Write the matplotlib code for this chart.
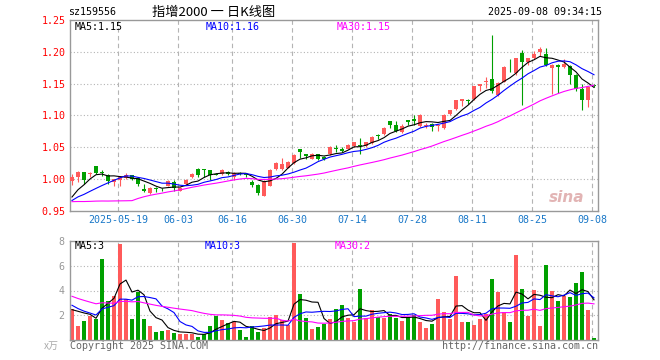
import numpy as np
import pandas as pd
import matplotlib
matplotlib.use('Agg')
import matplotlib.pyplot as plt

plt.rcParams['font.family'] = ['DejaVu Sans Mono', 'Noto Sans CJK SC']

# sz159556 daily bars, 2025-05-07 .. 2025-09-08 (88 trading days)
opens = [0.997, 1.003, 1.011, 1.008, 1.020, 1.012, 1.007, 0.996, 0.999, 1.002,
         1.006, 1.002, 0.984, 0.979, 0.986, 0.985, 0.989, 0.996, 0.982, 0.992,
         1.003, 1.016, 1.015, 1.015, 1.008, 1.008, 1.012, 1.003, 1.010, 1.008,
         0.996, 0.991, 0.974, 0.990, 1.016, 1.016, 1.018, 1.0255, 1.047, 1.040,
         1.032, 1.040, 1.035, 1.0395, 1.049, 1.047, 1.048, 1.0525, 1.054, 1.0525,
         1.057, 1.069, 1.071, 1.0915, 1.085, 1.0735, 1.093, 1.095, 1.084, 1.083,
         1.087, 1.083, 1.080, 1.102, 1.110, 1.122, 1.125, 1.126, 1.146, 1.152,
         1.158, 1.1325, 1.153, 1.1775, 1.166, 1.198, 1.1835, 1.190, 1.199, 1.196,
         1.174, 1.180, 1.176, 1.178, 1.164, 1.1415, 1.124, 1.148]
highs = [1.008, 1.013, 1.012, 1.012, 1.021, 1.015, 1.008, 1.001, 1.005, 1.009,
         1.007, 1.003, 0.993, 0.987, 0.987, 0.986, 0.998, 0.998, 0.987, 1.000,
         1.009, 1.017, 1.016, 1.015, 1.009, 1.016, 1.013, 1.011, 1.011, 1.009,
         0.998, 0.992, 0.998, 1.016, 1.027, 1.034, 1.028, 1.039, 1.048, 1.040,
         1.041, 1.040, 1.036, 1.052, 1.053, 1.050, 1.055, 1.059, 1.064, 1.059,
         1.068, 1.071, 1.082, 1.092, 1.0915, 1.086, 1.093, 1.100, 1.102, 1.088,
         1.088, 1.086, 1.102, 1.109, 1.125, 1.126, 1.126, 1.147, 1.150, 1.160,
         1.2265, 1.152, 1.178, 1.189, 1.191, 1.203, 1.191, 1.201, 1.207, 1.206,
         1.181, 1.181, 1.189, 1.180, 1.165, 1.149, 1.147, 1.149]
lows = [0.991, 0.995, 0.992, 1.003, 1.008, 1.005, 0.993, 0.989, 0.989, 1.000,
        0.998, 0.990, 0.980, 0.977, 0.980, 0.981, 0.989, 0.981, 0.981, 0.991,
        1.002, 1.004, 1.004, 0.998, 1.006, 1.007, 1.006, 0.998, 1.006, 1.003,
        0.987, 0.975, 0.973, 0.989, 1.014, 1.015, 1.017, 1.024, 1.034, 1.032,
        1.031, 1.030, 1.030, 1.038, 1.043, 1.042, 1.047, 1.050, 1.040, 1.051,
        1.056, 1.063, 1.070, 1.080, 1.074, 1.073, 1.0855, 1.085, 1.082, 1.081,
        1.075, 1.076, 1.079, 1.101, 1.109, 1.115, 1.118, 1.124, 1.138, 1.143,
        1.1355, 1.131, 1.152, 1.168, 1.164, 1.117, 1.180, 1.188, 1.193, 1.178,
        1.133, 1.136, 1.174, 1.150, 1.139, 1.108, 1.113, 1.145]
closes = [1.004, 1.012, 0.999, 1.010, 1.010, 1.009, 0.997, 1.000, 1.004, 1.007,
          1.000, 0.992, 0.982, 0.986, 0.985, 0.984, 0.997, 0.986, 0.986, 0.999,
          1.008, 1.006, 1.014, 1.007, 1.007, 1.014, 1.008, 1.010, 1.008, 1.006,
          0.991, 0.979, 0.996, 1.0145, 1.0255, 1.024, 1.0275, 1.038, 1.042, 1.036,
          1.040, 1.032, 1.032, 1.050, 1.047, 1.045, 1.0535, 1.058, 1.052, 1.058,
          1.067, 1.068, 1.081, 1.085, 1.076, 1.084, 1.090, 1.092, 1.101, 1.085,
          1.082, 1.085, 1.101, 1.108, 1.124, 1.1255, 1.122, 1.146, 1.149, 1.154,
          1.138, 1.151, 1.176, 1.177, 1.190, 1.184, 1.190, 1.1965, 1.204, 1.179,
          1.180, 1.176, 1.181, 1.164, 1.1415, 1.124, 1.145, 1.146]
vols = [2.47, 1.13, 1.53, 1.96, 1.69, 6.52, 3.14, 3.54, 7.73, 3.28,
        1.69, 3.89, 1.69, 1.13, 0.64, 0.72, 0.83, 0.56, 0.51, 0.51,
        0.51, 0.27, 0.48, 1.13, 1.96, 1.61, 1.34, 1.48, 0.81, 0.27,
        1.13, 0.64, 0.99, 1.83, 2.01, 1.61, 1.18, 7.84, 3.70, 1.74,
        0.89, 1.07, 1.29, 1.69, 2.47, 2.82, 1.74, 1.48, 4.11, 1.74,
        2.42, 1.83, 1.80, 2.09, 1.80, 1.56, 1.83, 2.01, 1.48, 0.99,
        1.29, 3.30, 2.28, 1.66, 5.18, 1.48, 1.48, 1.21, 1.69, 2.07,
        4.91, 3.89, 2.23, 1.48, 6.85, 4.11, 1.96, 4.03, 1.13, 6.04,
        3.95, 3.17, 3.54, 3.49, 4.62, 5.50, 2.42, 0.19]

# 29 sessions before the window, only used to start the moving averages
early_close = [1.005, 1.000, 1.002, 0.998, 1.004, 0.999, 0.995, 1.000, 1.003, 0.994,
               0.890, 0.900, 0.920, 0.930, 0.935, 0.940, 0.940, 0.935, 0.940, 0.945,
               0.955, 0.960, 0.962, 0.964, 0.964, 0.955, 0.960, 0.965, 0.976]
early_vol = [6.5, 6.0, 6.2, 5.8, 4.0, 3.8, 4.0, 3.6, 2.8, 3.0,
             3.0, 5.0, 4.2, 3.6, 3.2, 3.0, 2.8, 2.6, 2.4, 2.4,
             3.8, 3.6, 3.5, 3.3, 1.6, 1.8, 2.2, 2.5, 3.3]

tick_idx = [8, 18, 27, 37, 47, 57, 67, 77, 87]
tick_lbl = ['2025-05-19', '06-03', '06-16', '06-30', '07-14', '07-28', '08-11', '08-25', '09-08']

UP = '#ff5a5a'
DOWN = '#00a000'
GRID = '#b4b4b4'

o = np.array(opens); h = np.array(highs); l = np.array(lows); c = np.array(closes)
v = np.array(vols)
x = np.arange(len(c))
up = c >= o
cols = np.where(up, UP, DOWN)
n0 = len(early_close)

def ma(early, vals, n):
    s = pd.Series(list(early) + list(vals)).rolling(n).mean()
    return s.iloc[n0:].to_numpy()

fig = plt.figure(figsize=(6.6, 3.6), dpi=100)
W, H = 660.0, 360.0
ax = fig.add_axes([70 / W, 1 - 211 / H, 528 / W, 191 / H])
axv = fig.add_axes([70 / W, 1 - 340 / H, 528 / W, 99 / H])

for a in (ax, axv):
    a.set_xlim(-0.333, 87.667)
    for s in a.spines.values():
        s.set_color('#999999')
        s.set_linewidth(1.0)
    for t in tick_idx:
        a.axvline(t - 0.3, color=GRID, lw=0.8, ls=(0, (4, 3)), zorder=0)
    a.tick_params(length=0)

# price panel
ax.set_ylim(0.95, 1.25)
for yv in [1.00, 1.05, 1.10, 1.15, 1.20]:
    ax.axhline(yv, color=GRID, lw=0.8, ls=(0, (1, 2)), zorder=0)
ax.vlines(x, l, h, colors=cols, lw=0.8, zorder=2)
body = np.maximum(np.abs(c - o), 0.0012)
ax.bar(x, body, bottom=np.minimum(o, c), width=0.75, color=cols, linewidth=0, zorder=3)
ax.plot(x, ma(early_close, c, 5), color='black', lw=0.8, zorder=4)
ax.plot(x, ma(early_close, c, 10), color='#0000ff', lw=0.8, zorder=4)
ax.plot(x, ma(early_close, c, 30), color='#ff00ff', lw=0.8, zorder=4)
yt = [0.95, 1.00, 1.05, 1.10, 1.15, 1.20, 1.25]
ax.set_yticks(yt)
ax.set_yticklabels(['%.2f' % t for t in yt], color='red', fontsize=7.2)
ax.set_xticks([t - 0.3 for t in tick_idx])
ax.set_xticklabels(tick_lbl, color='#1a78c8', fontsize=7.2)
ax.tick_params(axis='x', pad=3)
ax.tick_params(axis='y', pad=3)
ax.text(0.94, 0.07, 'sina', transform=ax.transAxes, ha='center', va='center',
        fontsize=11, fontstyle='italic', fontweight='bold', color='#e2b4b4',
        family='DejaVu Sans', zorder=1)

# volume panel
axv.set_ylim(0, 8)
for yv in [2, 4, 6]:
    axv.axhline(yv, color=GRID, lw=0.8, ls=(0, (1, 2)), zorder=0)
axv.bar(x, v, width=0.8, color=cols, linewidth=0, zorder=2)
axv.plot(x, ma(early_vol, v, 5), color='black', lw=0.8, zorder=3)
axv.plot(x, ma(early_vol, v, 10), color='#0000ff', lw=0.8, zorder=3)
axv.plot(x, ma(early_vol, v, 30), color='#ff00ff', lw=0.8, zorder=3)
axv.set_yticks([2, 4, 6, 8])
axv.set_yticklabels(['2', '4', '6', '8'], color='#999999', fontsize=7.2)
axv.set_xticks([])
axv.tick_params(axis='y', pad=4)

def txt(px, py, s, size=7.2, **kw):
    fig.text(px / W, 1 - py / H, s, va='center', fontsize=size, **kw)

txt(68, 12, 'sz159556', color='black')
txt(152, 12, '指增2000 一 日K线图', color='black', size=9.5,
    family=['Noto Sans CJK SC', 'DejaVu Sans'])
txt(602, 12, '2025-09-08 09:34:15', color='black', ha='right')
txt(75, 27, 'MA5:1.15', color='black')
txt(206, 27, 'MA10:1.16', color='#0000ff')
txt(337, 27, 'MA30:1.15', color='#ff00ff')
txt(75, 246, 'MA5:3', color='black')
txt(205, 246, 'MA10:3', color='#0000ff')
txt(335, 246, 'MA30:2', color='#ff00ff')
txt(44, 346, 'x万', color='#aaaaaa', family=['Noto Sans CJK SC', 'DejaVu Sans'])
txt(70, 346, 'Copyright 2025 SINA.COM', color='#666666')
txt(598, 346, 'http://finance.sina.com.cn', color='#666666', ha='right')

fig.savefig('out.png', dpi=100)
